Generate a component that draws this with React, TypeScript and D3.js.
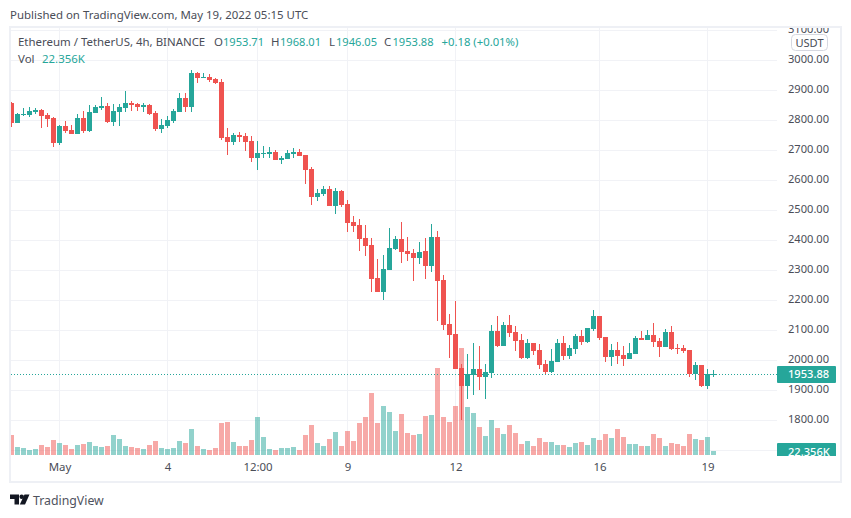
import React, { useRef, useEffect } from 'react';
import * as d3 from 'd3';

// 4h candles, oldest first
const opens = [
  2858, 2793, 2818, 2819, 2828, 2835, 2818, 2808, 2726, 2782, 2768, 2756, 2808, 2766, 2826, 2842, 2848, 2796, 2828, 2842,
  2858, 2855, 2845, 2852, 2825, 2772, 2782, 2798, 2828, 2875, 2845, 2958, 2942, 2945, 2938, 2928, 2745, 2728, 2752, 2748,
  2732, 2675, 2688, 2688, 2695, 2668, 2672, 2688, 2695, 2685, 2638, 2545, 2555, 2572, 2515, 2565, 2522, 2462, 2452, 2408,
  2385, 2275, 2228, 2302, 2372, 2405, 2365, 2358, 2342, 2365, 2315, 2412, 2268, 2122, 2088, 1975, 1915, 1952, 1972, 1945,
  1958, 2098, 2048, 2118, 2095, 2068, 2008, 2058, 2035, 1988, 1962, 1995, 2058, 2015, 2038, 2082, 2062, 2105, 2148, 2078,
  2012, 2035, 2018, 2005, 2022, 2075, 2068, 2085, 2065, 2045, 2095, 2042, 2042, 2035, 1955, 1985, 1915, 1953.71,
];
const highs = [
  2862, 2824, 2842, 2845, 2842, 2838, 2825, 2812, 2785, 2798, 2785, 2822, 2832, 2852, 2852, 2878, 2858, 2855, 2855, 2898,
  2865, 2858, 2858, 2855, 2832, 2805, 2815, 2838, 2892, 2892, 2968, 2962, 2958, 2955, 2942, 2938, 2775, 2758, 2762, 2758,
  2748, 2732, 2715, 2712, 2702, 2682, 2702, 2708, 2705, 2685, 2645, 2572, 2582, 2582, 2575, 2568, 2535, 2482, 2472, 2452,
  2408, 2338, 2352, 2442, 2415, 2462, 2412, 2372, 2395, 2408, 2455, 2432, 2285, 2155, 2198, 1988, 2022, 2058, 2048, 1988,
  2118, 2148, 2128, 2152, 2115, 2088, 2072, 2058, 2055, 2002, 2038, 2072, 2082, 2052, 2088, 2102, 2108, 2168, 2148, 2078,
  2055, 2062, 2048, 2058, 2082, 2098, 2102, 2125, 2075, 2105, 2115, 2055, 2052, 2035, 1995, 1985, 1972, 1968.01,
];
const lows = [
  2779, 2793, 2816, 2813, 2823, 2776, 2779, 2713, 2719, 2758, 2756, 2756, 2759, 2763, 2826, 2835, 2793, 2783, 2783, 2828,
  2832, 2832, 2828, 2818, 2766, 2758, 2775, 2792, 2828, 2828, 2828, 2925, 2942, 2928, 2922, 2735, 2685, 2718, 2728, 2698,
  2662, 2635, 2675, 2675, 2668, 2655, 2672, 2675, 2682, 2588, 2518, 2532, 2548, 2515, 2488, 2512, 2428, 2428, 2365, 2348,
  2228, 2228, 2202, 2302, 2368, 2325, 2332, 2265, 2322, 2272, 2295, 2132, 2102, 2008, 1972, 1802, 1872, 1885, 1902, 1872,
  1942, 2045, 2048, 2078, 2032, 2005, 2005, 2018, 1972, 1955, 1958, 1995, 2002, 2005, 2022, 2052, 2058, 2098, 2068, 1995,
  1982, 1988, 1982, 2005, 2022, 2068, 2068, 2045, 2012, 2045, 2035, 2022, 2025, 1945, 1935, 1912, 1905, 1946.05,
];
const closes = [
  2793, 2821, 2822, 2832, 2835, 2816, 2806, 2726, 2782, 2766, 2756, 2808, 2766, 2828, 2845, 2848, 2796, 2832, 2845, 2858,
  2852, 2845, 2852, 2822, 2772, 2785, 2802, 2832, 2875, 2845, 2958, 2942, 2945, 2935, 2925, 2742, 2728, 2752, 2745, 2728,
  2675, 2692, 2692, 2695, 2668, 2675, 2692, 2695, 2682, 2635, 2545, 2558, 2572, 2515, 2565, 2518, 2458, 2448, 2405, 2382,
  2272, 2228, 2305, 2375, 2405, 2362, 2355, 2342, 2362, 2315, 2412, 2265, 2118, 2085, 1972, 1915, 1955, 1972, 1944, 1962,
  2098, 2048, 2118, 2092, 2065, 2008, 2058, 2032, 1985, 1962, 1998, 2058, 2015, 2042, 2082, 2062, 2108, 2148, 2075, 2012,
  2035, 2015, 2005, 2025, 2075, 2068, 2085, 2062, 2045, 2095, 2038, 2038, 2032, 1955, 1985, 1915, 1955, 1953.88,
];
// volume in thousands
const volumes = [
  112, 45, 39, 28, 34, 56, 45, 84, 67, 56, 34, 56, 61, 73, 50, 45, 50, 112, 89, 50,
  45, 39, 34, 56, 78, 39, 34, 39, 78, 67, 145, 50, 34, 28, 39, 179, 184, 73, 50, 50,
  84, 212, 101, 34, 28, 39, 39, 45, 28, 112, 168, 67, 50, 89, 129, 50, 134, 78, 179, 212,
  347, 179, 274, 240, 134, 229, 123, 112, 117, 218, 224, 486, 212, 184, 274, 598, 268, 235, 156, 106,
  196, 151, 117, 168, 123, 61, 78, 50, 95, 73, 73, 56, 56, 45, 67, 73, 56, 95, 84, 117,
  95, 145, 101, 61, 61, 50, 50, 117, 95, 50, 67, 61, 50, 117, 89, 84, 101, 22.356,
];

const timeTickBars = [8, 26, 41, 56, 74, 98, 116];
const timeTickLabels = ['May', '4', '12:00', '9', '12', '16', '19'];
const priceTicks = [3100, 3000, 2900, 2800, 2700, 2600, 2500, 2400, 2300, 2200, 2100, 2000, 1900, 1800];
const gridPrices = [...priceTicks, 1700];
const lastPrice = 1953.88;

const GREEN = '#26a69a';
const RED = '#ef5350';
const GRID = '#f1f2f6';
const TEXT = '#4a4d57';
const FONT = '"Noto Sans", sans-serif';
const FONT_SIZE = 11.45; // sentences
const NUM_SIZE = 11.1; // digits run narrow in the original

const App: React.FC = () => {
  const ref = useRef<SVGSVGElement | null>(null);

  useEffect(() => {
    if (!ref.current) return;
    const svg = d3.select(ref.current);
    svg.selectAll('*').remove();

    const width = 851;
    const height = 518;
    const plot = { left: 11, right: 777, top: 28, bottom: 455 };

    const x = d3.scaleLinear().domain([0, 117]).range([11.5, 713.5]);
    const y = d3.scaleLinear().domain([3000, 1800]).range([60.5, 420.5]);
    const yVol = d3.scaleLinear().domain([0, 559]).range([455, 355]);
    const py = (p: number) => Math.round(y(p));

    const defs = svg.append('defs');
    defs.append('clipPath').attr('id', 'plot-clip').append('rect')
      .attr('x', plot.left).attr('y', plot.top)
      .attr('width', plot.right - plot.left).attr('height', plot.bottom - plot.top);
    defs.append('clipPath').attr('id', 'axis-clip').append('rect')
      .attr('x', plot.right).attr('y', plot.top)
      .attr('width', 63).attr('height', plot.bottom + 1 - plot.top);

    svg.append('rect').attr('width', width).attr('height', height).attr('fill', '#fff');

    svg.append('text')
      .attr('x', 10).attr('y', 19)
      .attr('font-size', FONT_SIZE).attr('fill', TEXT)
      .text('Published on TradingView.com, May 19, 2022 05:15 UTC');

    // frame
    svg.append('rect')
      .attr('x', 10).attr('y', 27).attr('width', 831).attr('height', 455)
      .attr('fill', 'none').attr('stroke', '#eef0f5').attr('stroke-width', 2);

    // grid
    const grid = svg.append('g').attr('stroke', GRID).attr('stroke-width', 1)
      .attr('clip-path', 'url(#plot-clip)');
    gridPrices.forEach(p => {
      grid.append('line').attr('x1', plot.left).attr('x2', plot.right).attr('y1', y(p)).attr('y2', y(p));
    });
    timeTickBars.forEach(b => {
      grid.append('line').attr('x1', x(b)).attr('x2', x(b)).attr('y1', plot.top).attr('y2', plot.bottom);
    });

    const isUp = (i: number) => closes[i] >= opens[i];
    const bars = d3.range(opens.length);

    // volume
    svg.append('g').attr('clip-path', 'url(#plot-clip)')
      .selectAll('rect').data(bars).enter().append('rect')
      .attr('x', i => x(i) - 2.5)
      .attr('width', 5)
      .attr('y', i => Math.round(yVol(volumes[i])))
      .attr('height', i => yVol(0) - Math.round(yVol(volumes[i])))
      .attr('fill', i => (isUp(i) ? GREEN : RED))
      .attr('fill-opacity', 0.5);

    // last price line
    const lastY = Math.floor(y(lastPrice)) + 0.5;
    svg.append('line')
      .attr('x1', plot.left).attr('x2', plot.right)
      .attr('y1', lastY).attr('y2', lastY)
      .attr('stroke', GREEN).attr('stroke-width', 1).attr('stroke-dasharray', '1 2');

    // candles
    const candles = svg.append('g').attr('clip-path', 'url(#plot-clip)');
    candles.selectAll('line').data(bars).enter().append('line')
      .attr('x1', i => x(i)).attr('x2', i => x(i))
      .attr('y1', i => py(highs[i])).attr('y2', i => py(lows[i]))
      .attr('stroke', i => (isUp(i) ? GREEN : RED));
    candles.selectAll('rect').data(bars).enter().append('rect')
      .attr('x', i => x(i) - 2.5)
      .attr('width', 5)
      .attr('y', i => py(Math.max(opens[i], closes[i])))
      .attr('height', i => Math.max(1, Math.abs(py(opens[i]) - py(closes[i]))))
      .attr('fill', i => (isUp(i) ? GREEN : RED));

    // legend
    const legendRow = (row: number, parts: [number, string, string, number][]) => {
      parts.forEach(([px, str, color, size]) => {
        svg.append('text')
          .attr('x', px).attr('y', row)
          .attr('font-size', size).attr('fill', color)
          .text(str);
      });
    };
    legendRow(46, [
      [18, 'Ethereum / TetherUS, 4h, BINANCE', TEXT, FONT_SIZE],
      [214, 'O', TEXT, FONT_SIZE], [223, '1953.71', GREEN, NUM_SIZE],
      [271, 'H', TEXT, FONT_SIZE], [280, '1968.01', GREEN, NUM_SIZE],
      [329, 'L', TEXT, FONT_SIZE], [336, '1946.05', GREEN, NUM_SIZE],
      [384, 'C', TEXT, FONT_SIZE], [392.5, '1953.88', GREEN, NUM_SIZE],
      [441.5, '+0.18 (+0.01%)', GREEN, 11.3],
    ]);
    legendRow(63, [[18, 'Vol', TEXT, FONT_SIZE], [42, '22.356K', GREEN, FONT_SIZE]]);

    // price axis
    defs.append('clipPath').attr('id', 'axis-clip-shift').append('rect')
      .attr('x', -11).attr('y', plot.top + 2)
      .attr('width', 63).attr('height', plot.bottom - plot.top);
    const yAxis = d3.axisRight(y)
      .tickValues(priceTicks)
      .tickSize(0)
      .tickPadding(0)
      .tickFormat(d => (d as number).toFixed(2));
    const yAxisG = svg.append('g')
      .attr('transform', 'translate(788,-2)')
      .attr('clip-path', 'url(#axis-clip-shift)')
      .call(yAxis);
    yAxisG.select('.domain').remove();
    yAxisG.selectAll('text')
      .attr('font-family', FONT).attr('font-size', NUM_SIZE).attr('fill', TEXT);

    // currency button
    svg.append('rect')
      .attr('x', 791.5).attr('y', 34.5).attr('width', 36).attr('height', 16).attr('rx', 4)
      .attr('fill', '#fff').attr('stroke', '#d6d8e0');
    svg.append('text')
      .attr('x', 809.5).attr('y', 46.5)
      .attr('text-anchor', 'middle').attr('font-size', NUM_SIZE).attr('fill', TEXT)
      .text('USDT');

    // value tags
    const tags = svg.append('g').attr('clip-path', 'url(#axis-clip)');
    tags.append('rect')
      .attr('x', plot.right).attr('y', 366).attr('width', 59).attr('height', 17).attr('rx', 1)
      .attr('fill', GREEN);
    tags.append('text')
      .attr('x', 788).attr('y', 378)
      .attr('font-size', NUM_SIZE).attr('font-weight', 500).attr('fill', '#fff')
      .text(lastPrice.toFixed(2));
    tags.append('rect')
      .attr('x', plot.right).attr('y', 443).attr('width', 59).attr('height', 20).attr('rx', 1)
      .attr('fill', GREEN);
    tags.append('text')
      .attr('x', 788).attr('y', 456)
      .attr('font-size', NUM_SIZE).attr('font-weight', 500).attr('fill', '#fff')
      .text('22.356K');

    // time axis
    const tickLabel = d3.scaleOrdinal<number, string>().domain(timeTickBars).range(timeTickLabels);
    const xAxis = d3.axisBottom(x)
      .tickValues(timeTickBars)
      .tickSize(0)
      .tickPadding(0)
      .tickFormat(d => tickLabel(d as number));
    const xAxisG = svg.append('g')
      .attr('transform', 'translate(0,463)')
      .call(xAxis);
    xAxisG.select('.domain').remove();
    xAxisG.selectAll('text')
      .attr('font-family', FONT).attr('font-size', FONT_SIZE).attr('fill', TEXT);

    // logo
    const logo = svg.append('g').attr('transform', 'translate(10,494.5)').attr('fill', '#131722');
    logo.append('path').attr('d', 'M0 0H9V10H4.5V4.5H0Z');
    logo.append('circle').attr('cx', 11.7).attr('cy', 2.3).attr('r', 2.3);
    logo.append('path').attr('d', 'M14.5 0H19.5L15 10H9.8Z');
    svg.append('text')
      .attr('x', 33).attr('y', 505)
      .attr('font-size', 12.3).attr('fill', '#50535e')
      .text('TradingView');
  }, []);

  return (
    <svg
      ref={ref}
      width={851}
      height={518}
      fontFamily={FONT}
      style={{ position: 'absolute', left: 0, top: 0 }}
    />
  );
};

export default App;
